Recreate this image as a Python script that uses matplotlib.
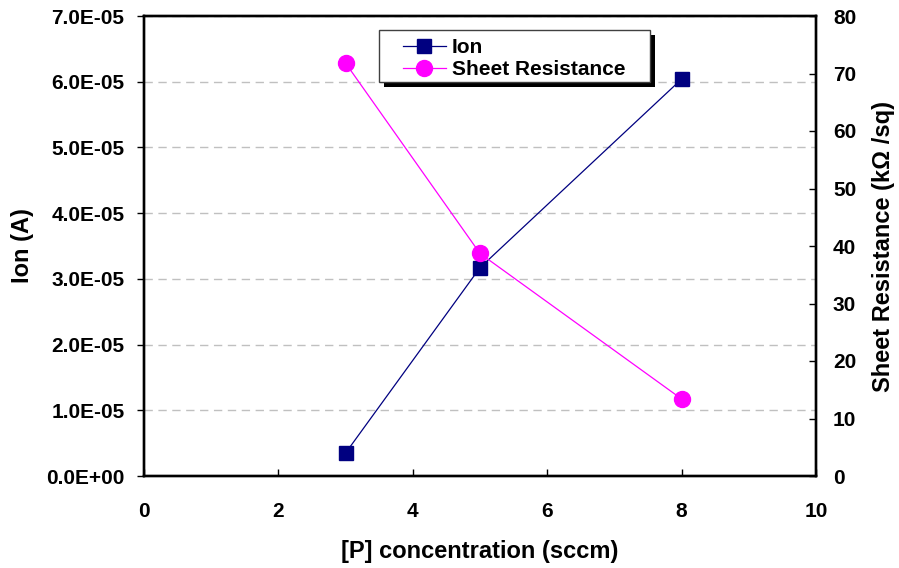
import matplotlib
matplotlib.use("Agg")
import matplotlib.pyplot as plt
from matplotlib.patches import Rectangle
from matplotlib.ticker import FuncFormatter, MultipleLocator

plt.rcParams['font.family'] = ['Liberation Sans', 'DejaVu Sans']
plt.rcParams['font.weight'] = 'bold'

# P concentration (sccm)
conc = [3, 5, 8]
# On-current (A)
ion = [3.5e-6, 3.17e-5, 6.04e-5]
# Sheet resistance (kOhm/sq)
sheet_res = [71.8, 38.7, 13.4]

x_ticks = [0, 2, 4, 6, 8, 10]

W, H = 899, 568
fig = plt.figure(figsize=(W / 100, H / 100), dpi=100)
ax = fig.add_axes([144 / W, 1 - 476 / H, 672 / W, 460 / H])
ax2 = ax.twinx()

navy = '#000080'
magenta = '#ff00ff'

l1, = ax.plot(conc, ion, color=navy, lw=0.9, marker='s', ms=9.5,
              mfc=navy, mec=navy, label='Ion', zorder=3)
l2, = ax2.plot(conc, sheet_res, color=magenta, lw=0.9, marker='o', ms=11.5,
               mfc=magenta, mec=magenta, label='Sheet Resistance', zorder=3)

ax.set_xlim(0, 10)
ax.set_xticks(x_ticks)
ax.set_ylim(0, 7e-5)
ax.yaxis.set_major_locator(MultipleLocator(1e-5))


def sci_fmt(v, pos):
    if abs(v) < 1e-12:
        return '0.0E+00'
    s = '%.1E' % v
    mant, exp = s.split('E')
    return '%sE%s%02d' % (mant, exp[0], abs(int(exp)))


ax.yaxis.set_major_formatter(FuncFormatter(sci_fmt))
ax2.set_ylim(0, 80)
ax2.yaxis.set_major_locator(MultipleLocator(10))

ax.grid(axis='y', color='#c0c0c0', linestyle=(0, (6, 4)), linewidth=1.0)
ax.set_axisbelow(True)

for a in (ax, ax2):
    for sp in a.spines.values():
        sp.set_linewidth(1.7)
        sp.set_color('black')

tick_fs = 15
ax.tick_params(axis='y', direction='out', length=5, width=1, labelsize=tick_fs, pad=9)
ax.tick_params(axis='x', direction='in', length=5, width=1, labelsize=tick_fs, pad=19, top=False)
ax2.tick_params(axis='y', direction='in', length=5, width=1, labelsize=tick_fs, pad=12.2)

for lab in ax.get_xticklabels() + ax.get_yticklabels() + ax2.get_yticklabels():
    lab.set_fontweight('bold')

label_fs = 17
ax.set_xlabel('[P] concentration (sccm)', fontsize=label_fs, fontweight='bold', labelpad=13.5)
ax.set_ylabel('Ion (A)', fontsize=label_fs, fontweight='bold', labelpad=9)
ax2.set_ylabel('Sheet Resistance (k\u03a9 /sq)', fontsize=label_fs, fontweight='bold', labelpad=11)

# legend box with a solid drop shadow
fig.patches.append(Rectangle((384 / W, 1 - 87 / H), 271 / W, 52 / H,
                             transform=fig.transFigure, facecolor='black',
                             edgecolor='none', zorder=5))
fig.patches.append(Rectangle((379 / W, 1 - 82 / H), 271 / W, 52 / H,
                             transform=fig.transFigure, facecolor='white',
                             edgecolor='#404040', linewidth=1.0, zorder=6))

leg = fig.legend([l1, l2], ['Ion', 'Sheet Resistance'],
                 loc='upper left', bbox_to_anchor=(403 / W, 1 - 38 / H),
                 frameon=False, handlelength=2.05, borderpad=0,
                 labelspacing=0.15, handletextpad=0.3, borderaxespad=0,
                 prop={'weight': 'bold', 'size': 15})
leg.set_zorder(7)

fig.savefig('out.png', dpi=100)
